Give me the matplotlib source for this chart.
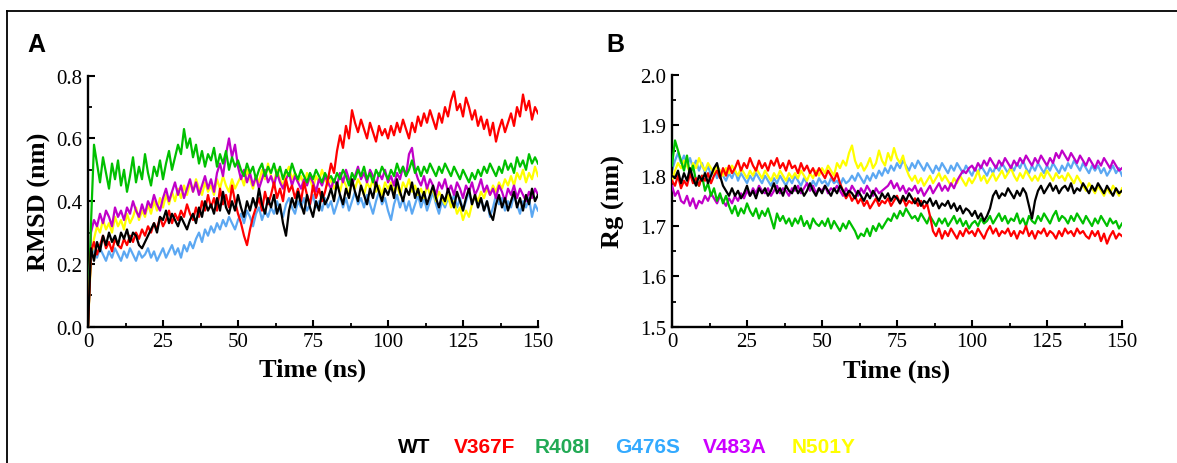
import numpy as np
import matplotlib
matplotlib.use("Agg")
import matplotlib.pyplot as plt
from matplotlib.lines import Line2D
from matplotlib.ticker import MultipleLocator

# ---------------- data (1 ns steps, 0..150 ns) ----------------
time_ns = np.arange(0, 151, 1)

labels = ["WT", "V367F", "R408I", "G476S", "V483A", "N501Y"]
line_colors = ["#000000", "#ff0000", "#00c000", "#5ca8f2", "#c000c8", "#ffff00"]
text_colors = ["#000000", "#ff0000", "#22aa55", "#33aaff", "#cc00ff", "#ffff00"]

rmsd_wt = [0.0,
    0.25,0.21,0.27,0.24,0.29,0.26,0.30,0.27,0.29,0.26,
    0.30,0.28,0.31,0.27,0.30,0.29,0.26,0.25,0.27,0.29,
    0.31,0.33,0.30,0.35,0.34,0.37,0.33,0.36,0.34,0.32,
    0.35,0.33,0.31,0.34,0.36,0.33,0.38,0.35,0.40,0.37,
    0.39,0.36,0.41,0.37,0.43,0.38,0.36,0.40,0.37,0.42,
    0.38,0.35,0.40,0.37,0.41,0.38,0.44,0.39,0.36,0.41,
    0.38,0.42,0.36,0.39,0.33,0.29,0.37,0.41,0.38,0.43,
    0.39,0.36,0.42,0.38,0.35,0.40,0.37,0.43,0.39,0.41,
    0.44,0.40,0.46,0.42,0.39,0.44,0.41,0.47,0.43,0.40,
    0.45,0.42,0.39,0.44,0.41,0.46,0.43,0.40,0.44,0.42,
    0.45,0.41,0.47,0.43,0.40,0.44,0.42,0.46,0.41,0.44,
    0.40,0.43,0.39,0.42,0.45,0.41,0.38,0.42,0.40,0.44,
    0.41,0.38,0.43,0.40,0.37,0.41,0.44,0.39,0.42,0.38,
    0.41,0.37,0.40,0.36,0.34,0.39,0.42,0.38,0.41,0.37,
    0.40,0.43,0.38,0.41,0.37,0.42,0.39,0.44,0.40,0.42]

rmsd_v367f = [0.0,
    0.24,0.27,0.23,0.26,0.29,0.25,0.27,0.24,0.28,0.26,
    0.25,0.28,0.26,0.29,0.27,0.30,0.28,0.31,0.29,0.32,
    0.30,0.33,0.31,0.35,0.32,0.34,0.37,0.33,0.36,0.34,
    0.37,0.35,0.39,0.36,0.34,0.38,0.35,0.40,0.37,0.42,
    0.38,0.41,0.37,0.44,0.39,0.42,0.38,0.45,0.40,0.36,
    0.33,0.29,0.26,0.31,0.35,0.38,0.41,0.37,0.43,0.39,
    0.42,0.46,0.41,0.44,0.40,0.47,0.43,0.45,0.41,0.44,
    0.40,0.46,0.42,0.39,0.45,0.41,0.44,0.40,0.43,0.47,
    0.52,0.49,0.56,0.61,0.57,0.64,0.60,0.69,0.65,0.62,
    0.66,0.63,0.60,0.65,0.62,0.59,0.64,0.61,0.63,0.60,
    0.64,0.61,0.65,0.62,0.66,0.63,0.60,0.65,0.62,0.67,
    0.64,0.68,0.65,0.69,0.66,0.63,0.68,0.65,0.70,0.67,
    0.72,0.75,0.69,0.71,0.67,0.73,0.70,0.66,0.69,0.64,
    0.67,0.63,0.66,0.61,0.65,0.59,0.63,0.66,0.62,0.65,
    0.68,0.64,0.70,0.67,0.74,0.69,0.72,0.66,0.70,0.68]

rmsd_r408i = [0.0,
    0.33,0.58,0.52,0.46,0.54,0.49,0.44,0.52,0.47,0.53,
    0.45,0.50,0.43,0.48,0.54,0.46,0.51,0.47,0.55,0.49,
    0.45,0.51,0.48,0.53,0.47,0.52,0.56,0.50,0.54,0.58,
    0.55,0.63,0.57,0.60,0.54,0.58,0.52,0.56,0.51,0.55,
    0.53,0.57,0.51,0.55,0.52,0.56,0.50,0.54,0.51,0.53,
    0.50,0.48,0.52,0.49,0.51,0.47,0.50,0.52,0.48,0.51,
    0.49,0.52,0.48,0.51,0.47,0.50,0.48,0.52,0.49,0.47,
    0.50,0.48,0.46,0.49,0.47,0.50,0.48,0.46,0.49,0.47,
    0.48,0.46,0.49,0.47,0.50,0.48,0.45,0.49,0.47,0.50,
    0.48,0.51,0.47,0.49,0.46,0.50,0.48,0.51,0.49,0.47,
    0.50,0.48,0.52,0.49,0.51,0.48,0.50,0.53,0.49,0.51,
    0.48,0.51,0.49,0.52,0.50,0.48,0.51,0.49,0.52,0.50,
    0.48,0.51,0.49,0.47,0.50,0.48,0.46,0.49,0.47,0.50,
    0.48,0.51,0.49,0.52,0.50,0.48,0.51,0.49,0.53,0.50,
    0.52,0.49,0.54,0.51,0.53,0.50,0.55,0.52,0.54,0.52]

rmsd_g476s = [0.0,
    0.26,0.24,0.22,0.25,0.23,0.21,0.24,0.22,0.25,0.23,
    0.21,0.24,0.22,0.25,0.23,0.21,0.24,0.22,0.23,0.25,
    0.22,0.24,0.21,0.23,0.25,0.22,0.24,0.26,0.23,0.25,
    0.22,0.26,0.24,0.27,0.25,0.28,0.30,0.27,0.31,0.29,
    0.32,0.30,0.33,0.31,0.34,0.32,0.35,0.33,0.31,0.34,
    0.36,0.33,0.37,0.35,0.32,0.36,0.38,0.34,0.37,0.35,
    0.38,0.36,0.40,0.37,0.35,0.39,0.41,0.38,0.36,0.40,
    0.38,0.41,0.37,0.39,0.42,0.38,0.40,0.37,0.41,0.38,
    0.40,0.36,0.39,0.42,0.38,0.41,0.37,0.40,0.43,0.39,
    0.41,0.38,0.42,0.39,0.36,0.40,0.43,0.39,0.41,0.37,
    0.34,0.39,0.42,0.38,0.41,0.37,0.40,0.36,0.39,0.42,
    0.38,0.41,0.37,0.40,0.43,0.39,0.36,0.40,0.38,0.41,
    0.39,0.42,0.38,0.41,0.37,0.40,0.43,0.39,0.42,0.38,
    0.41,0.37,0.40,0.35,0.38,0.42,0.39,0.41,0.37,0.40,
    0.38,0.42,0.39,0.36,0.40,0.38,0.41,0.35,0.39,0.37]

rmsd_v483a = [0.0,
    0.30,0.34,0.32,0.36,0.33,0.37,0.35,0.32,0.38,0.35,
    0.37,0.34,0.38,0.36,0.40,0.37,0.35,0.39,0.36,0.40,
    0.38,0.42,0.39,0.37,0.41,0.44,0.40,0.43,0.46,0.42,
    0.45,0.41,0.44,0.47,0.43,0.46,0.42,0.45,0.48,0.44,
    0.47,0.43,0.49,0.52,0.48,0.55,0.60,0.54,0.58,0.51,
    0.47,0.50,0.46,0.49,0.45,0.48,0.44,0.47,0.50,0.46,
    0.48,0.45,0.49,0.46,0.44,0.47,0.49,0.45,0.48,0.46,
    0.44,0.47,0.45,0.48,0.46,0.43,0.47,0.45,0.48,0.46,
    0.44,0.47,0.45,0.49,0.46,0.50,0.47,0.45,0.48,0.51,
    0.47,0.49,0.46,0.50,0.48,0.45,0.49,0.47,0.50,0.46,
    0.48,0.45,0.49,0.47,0.51,0.48,0.55,0.57,0.50,0.47,
    0.45,0.48,0.44,0.47,0.45,0.42,0.46,0.44,0.47,0.43,
    0.45,0.42,0.46,0.44,0.41,0.45,0.43,0.46,0.42,0.44,
    0.47,0.43,0.45,0.42,0.44,0.41,0.45,0.43,0.40,0.44,
    0.42,0.45,0.41,0.44,0.42,0.40,0.43,0.41,0.44,0.42]

rmsd_n501y = [0.0,
    0.22,0.28,0.32,0.30,0.34,0.31,0.33,0.30,0.35,0.32,
    0.34,0.31,0.36,0.33,0.35,0.38,0.34,0.37,0.35,0.39,
    0.36,0.40,0.37,0.41,0.38,0.42,0.39,0.43,0.40,0.44,
    0.41,0.45,0.42,0.46,0.43,0.47,0.44,0.42,0.46,0.43,
    0.45,0.42,0.47,0.44,0.48,0.45,0.43,0.47,0.44,0.46,
    0.48,0.45,0.50,0.47,0.44,0.48,0.46,0.50,0.47,0.52,
    0.48,0.46,0.50,0.47,0.45,0.49,0.51,0.47,0.49,0.46,
    0.48,0.45,0.49,0.47,0.44,0.48,0.46,0.50,0.47,0.45,
    0.47,0.44,0.46,0.43,0.47,0.45,0.42,0.46,0.44,0.47,
    0.45,0.42,0.46,0.44,0.47,0.43,0.45,0.42,0.46,0.44,
    0.46,0.43,0.45,0.42,0.46,0.44,0.47,0.43,0.45,0.42,
    0.44,0.41,0.45,0.42,0.44,0.40,0.43,0.41,0.39,0.42,
    0.38,0.40,0.36,0.38,0.34,0.37,0.35,0.39,0.42,0.40,
    0.43,0.41,0.44,0.42,0.45,0.43,0.46,0.44,0.47,0.45,
    0.48,0.45,0.49,0.47,0.50,0.46,0.49,0.47,0.51,0.48]

rg_wt = [1.800,
    1.795,1.810,1.785,1.805,1.790,1.815,1.795,1.780,1.800,1.790,
    1.805,1.785,1.800,1.815,1.825,1.800,1.780,1.770,1.760,1.775,
    1.760,1.770,1.755,1.765,1.780,1.760,1.770,1.755,1.775,1.765,
    1.775,1.760,1.770,1.785,1.765,1.775,1.760,1.780,1.770,1.765,
    1.780,1.765,1.775,1.760,1.770,1.785,1.770,1.760,1.775,1.765,
    1.780,1.770,1.760,1.775,1.765,1.780,1.770,1.760,1.770,1.765,
    1.755,1.770,1.760,1.750,1.765,1.755,1.770,1.760,1.750,1.765,
    1.755,1.765,1.750,1.760,1.755,1.745,1.760,1.750,1.765,1.755,
    1.745,1.755,1.740,1.750,1.745,1.755,1.740,1.750,1.735,1.745,
    1.740,1.750,1.735,1.745,1.730,1.740,1.725,1.735,1.730,1.720,
    1.730,1.715,1.725,1.710,1.720,1.735,1.760,1.770,1.755,1.765,
    1.760,1.775,1.765,1.755,1.770,1.760,1.775,1.765,1.740,1.715,
    1.750,1.770,1.780,1.765,1.775,1.785,1.770,1.780,1.765,1.775,
    1.780,1.770,1.785,1.765,1.775,1.770,1.785,1.775,1.765,1.780,
    1.770,1.785,1.775,1.765,1.780,1.770,1.760,1.775,1.765,1.770]

rg_v367f = [1.790,
    1.780,1.800,1.775,1.790,1.780,1.805,1.785,1.795,1.780,1.800,
    1.790,1.805,1.785,1.800,1.810,1.795,1.815,1.800,1.820,1.805,
    1.815,1.830,1.810,1.825,1.815,1.835,1.820,1.810,1.830,1.815,
    1.825,1.810,1.830,1.820,1.835,1.815,1.825,1.810,1.830,1.815,
    1.820,1.805,1.825,1.810,1.820,1.805,1.815,1.800,1.815,1.805,
    1.795,1.810,1.800,1.790,1.805,1.785,1.770,1.755,1.765,1.750,
    1.760,1.745,1.755,1.740,1.750,1.735,1.745,1.755,1.740,1.750,
    1.745,1.755,1.740,1.750,1.760,1.745,1.755,1.740,1.750,1.745,
    1.755,1.740,1.750,1.735,1.745,1.720,1.690,1.680,1.695,1.675,
    1.690,1.680,1.695,1.685,1.675,1.690,1.680,1.695,1.685,1.690,
    1.680,1.695,1.685,1.675,1.690,1.700,1.685,1.695,1.680,1.690,
    1.685,1.695,1.680,1.690,1.675,1.690,1.685,1.700,1.680,1.690,
    1.675,1.690,1.685,1.695,1.680,1.690,1.685,1.675,1.690,1.680,
    1.695,1.685,1.690,1.680,1.695,1.685,1.690,1.680,1.675,1.690,
    1.680,1.690,1.670,1.685,1.665,1.680,1.690,1.675,1.685,1.680]

rg_r408i = [1.820,
    1.870,1.850,1.830,1.810,1.840,1.800,1.820,1.790,1.780,1.800,
    1.770,1.785,1.760,1.775,1.750,1.765,1.745,1.760,1.740,1.725,
    1.740,1.720,1.735,1.725,1.745,1.730,1.720,1.735,1.715,1.730,
    1.720,1.735,1.715,1.695,1.725,1.710,1.720,1.705,1.715,1.700,
    1.715,1.705,1.720,1.700,1.710,1.695,1.715,1.705,1.700,1.710,
    1.700,1.715,1.695,1.710,1.700,1.690,1.705,1.695,1.710,1.700,
    1.690,1.675,1.685,1.680,1.695,1.680,1.700,1.690,1.705,1.695,
    1.705,1.715,1.710,1.725,1.715,1.730,1.720,1.735,1.725,1.715,
    1.720,1.710,1.725,1.715,1.705,1.720,1.710,1.700,1.715,1.705,
    1.715,1.700,1.710,1.720,1.705,1.715,1.700,1.710,1.695,1.705,
    1.710,1.700,1.715,1.705,1.710,1.720,1.705,1.715,1.725,1.710,
    1.720,1.705,1.715,1.710,1.725,1.705,1.715,1.700,1.720,1.710,
    1.705,1.720,1.710,1.725,1.715,1.705,1.720,1.730,1.710,1.720,
    1.715,1.705,1.720,1.710,1.725,1.715,1.705,1.720,1.710,1.700,
    1.715,1.705,1.720,1.710,1.700,1.715,1.705,1.710,1.695,1.705]

rg_g476s = [1.810,
    1.830,1.845,1.825,1.840,1.820,1.835,1.815,1.830,1.810,1.825,
    1.805,1.820,1.800,1.815,1.795,1.810,1.800,1.790,1.805,1.795,
    1.810,1.790,1.805,1.795,1.785,1.800,1.790,1.805,1.795,1.785,
    1.800,1.790,1.780,1.795,1.785,1.800,1.790,1.780,1.795,1.785,
    1.800,1.790,1.780,1.795,1.785,1.775,1.790,1.780,1.795,1.785,
    1.790,1.780,1.795,1.785,1.790,1.780,1.795,1.785,1.790,1.800,
    1.790,1.805,1.795,1.785,1.800,1.790,1.805,1.795,1.810,1.800,
    1.815,1.805,1.820,1.810,1.825,1.815,1.830,1.820,1.810,1.825,
    1.815,1.830,1.820,1.810,1.825,1.815,1.805,1.820,1.810,1.825,
    1.815,1.805,1.820,1.810,1.825,1.815,1.805,1.820,1.810,1.800,
    1.815,1.805,1.820,1.810,1.800,1.815,1.805,1.820,1.810,1.825,
    1.815,1.805,1.820,1.810,1.825,1.815,1.830,1.815,1.805,1.820,
    1.810,1.825,1.815,1.805,1.820,1.810,1.825,1.815,1.805,1.820,
    1.810,1.825,1.815,1.830,1.820,1.810,1.825,1.815,1.805,1.820,
    1.810,1.820,1.805,1.815,1.800,1.810,1.820,1.805,1.815,1.800]

rg_v483a = [1.780,
    1.760,1.770,1.750,1.745,1.760,1.740,1.755,1.735,1.750,1.745,
    1.760,1.750,1.765,1.755,1.745,1.760,1.750,1.740,1.755,1.745,
    1.760,1.750,1.765,1.755,1.770,1.760,1.775,1.765,1.780,1.770,
    1.765,1.775,1.760,1.770,1.780,1.765,1.775,1.770,1.760,1.775,
    1.770,1.780,1.765,1.775,1.785,1.770,1.780,1.765,1.775,1.770,
    1.780,1.765,1.775,1.770,1.780,1.770,1.760,1.775,1.765,1.780,
    1.770,1.760,1.775,1.765,1.780,1.770,1.760,1.775,1.765,1.770,
    1.775,1.780,1.790,1.775,1.785,1.770,1.780,1.765,1.775,1.770,
    1.780,1.765,1.775,1.760,1.770,1.780,1.765,1.775,1.785,1.770,
    1.780,1.770,1.785,1.775,1.790,1.800,1.810,1.805,1.815,1.820,
    1.810,1.825,1.815,1.830,1.820,1.835,1.825,1.815,1.830,1.820,
    1.835,1.825,1.815,1.830,1.820,1.835,1.825,1.840,1.830,1.820,
    1.835,1.825,1.840,1.830,1.820,1.835,1.825,1.845,1.835,1.850,
    1.840,1.830,1.845,1.835,1.825,1.840,1.830,1.820,1.835,1.825,
    1.815,1.830,1.820,1.835,1.825,1.815,1.830,1.820,1.810,1.815]

rg_n501y = [1.790,
    1.810,1.825,1.815,1.830,1.820,1.805,1.825,1.815,1.835,1.820,
    1.810,1.825,1.815,1.805,1.820,1.810,1.800,1.815,1.805,1.820,
    1.810,1.800,1.815,1.805,1.795,1.810,1.800,1.815,1.805,1.795,
    1.810,1.800,1.790,1.805,1.795,1.810,1.800,1.790,1.805,1.795,
    1.805,1.795,1.810,1.800,1.790,1.805,1.795,1.810,1.800,1.815,
    1.805,1.820,1.810,1.800,1.825,1.815,1.830,1.820,1.845,1.860,
    1.830,1.815,1.825,1.810,1.820,1.835,1.815,1.825,1.850,1.830,
    1.820,1.845,1.830,1.855,1.835,1.825,1.840,1.815,1.800,1.790,
    1.800,1.785,1.795,1.780,1.790,1.800,1.785,1.795,1.805,1.790,
    1.800,1.790,1.780,1.795,1.785,1.800,1.790,1.780,1.795,1.785,
    1.795,1.810,1.790,1.800,1.785,1.795,1.805,1.790,1.800,1.810,
    1.795,1.805,1.815,1.800,1.790,1.805,1.795,1.810,1.800,1.790,
    1.800,1.790,1.805,1.795,1.810,1.800,1.790,1.805,1.795,1.800,
    1.790,1.805,1.795,1.785,1.800,1.790,1.780,1.770,1.785,1.775,
    1.765,1.780,1.770,1.760,1.775,1.765,1.780,1.770,1.760,1.775]

x_ticks = [0, 25, 50, 75, 100, 125, 150]
rmsd_ticks = [0.0, 0.2, 0.4, 0.6, 0.8]
rg_ticks = [1.5, 1.6, 1.7, 1.8, 1.9, 2.0]

rmsd_series = [rmsd_wt, rmsd_v367f, rmsd_r408i, rmsd_g476s, rmsd_v483a, rmsd_n501y]
rg_series = [rg_wt, rg_v367f, rg_r408i, rg_g476s, rg_v483a, rg_n501y]

# ---------------- figure ----------------
W, H = 1177, 464
fig = plt.figure(figsize=(W / 100, H / 100), dpi=100)
serif = ["Liberation Serif", "DejaVu Serif"]
sans = ["Liberation Sans", "DejaVu Sans"]

def px_axes(x0, x1, ytop, ybot):
    return fig.add_axes([x0 / W, 1 - ybot / H, (x1 - x0) / W, (ybot - ytop) / H])

axA = px_axes(88, 538, 76.7, 327.7)
axB = px_axes(672, 1122, 76.0, 327.7)

# draw order (first drawn lies underneath)
orderA = [3, 5, 4, 2, 1, 0]
orderB = [3, 5, 4, 2, 1, 0]

def style(ax, yticks, ylim, yminor, ylabel, ylabel_x):
    ax.set_xlim(0, 150)
    ax.set_ylim(*ylim)
    ax.set_xticks(x_ticks)
    ax.set_yticks(yticks)
    ax.xaxis.set_minor_locator(MultipleLocator(12.5))
    ax.yaxis.set_minor_locator(MultipleLocator(yminor))
    ax.set_xticklabels([str(v) for v in x_ticks], family=serif, fontsize=15)
    ax.set_yticklabels([f"{v:.1f}" for v in yticks], family=serif, fontsize=15)
    for s in ["top", "right"]:
        ax.spines[s].set_visible(False)
    for s in ["left", "bottom"]:
        ax.spines[s].set_linewidth(1.7)
    ax.tick_params(which="major", direction="in", length=5, width=1.5, pad=4)
    ax.tick_params(which="minor", direction="in", length=3, width=1.3)
    ax.set_xlabel("Time (ns)", family=serif, fontsize=19, fontweight="bold")
    ax.set_ylabel(ylabel, family=serif, fontsize=19, fontweight="bold")
    ax.xaxis.set_label_coords(0.5, -0.125)
    ax.yaxis.set_label_coords(ylabel_x, 0.5)

for k, i in enumerate(orderA):
    axA.plot(time_ns, rmsd_series[i], color=line_colors[i], lw=1.6, zorder=2 + k)
for k, i in enumerate(orderB):
    axB.plot(time_ns, rg_series[i], color=line_colors[i], lw=1.6, zorder=2 + k)

style(axA, rmsd_ticks, (0.0, 0.8), 0.1, "RMSD (nm)", -0.082)
style(axB, rg_ticks, (1.5, 2.0), 0.05, "Rg (nm)", -0.104)

# panel letters
fig.text(27 / W, 1 - 52 / H, "A", family=sans, fontsize=18, fontweight="bold", va="baseline")
fig.text(606 / W, 1 - 52 / H, "B", family=sans, fontsize=18, fontweight="bold", va="baseline")

# legend as coloured text
legend_x = [398, 454, 535, 615, 703, 792]
for lx, lab, c in zip(legend_x, labels, text_colors):
    fig.text(lx / W, 1 - 453 / H, lab, family=sans, fontsize=15, fontweight="bold",
             color=c, va="baseline", ha="left")

# frame around the figure
fig.add_artist(Line2D([7 / W, 1.0], [1 - 12 / H, 1 - 12 / H], color="black", lw=1.3))
fig.add_artist(Line2D([7 / W, 7 / W], [0.0, 1 - 12 / H], color="black", lw=1.3))

fig.savefig("out.png", dpi=100)
